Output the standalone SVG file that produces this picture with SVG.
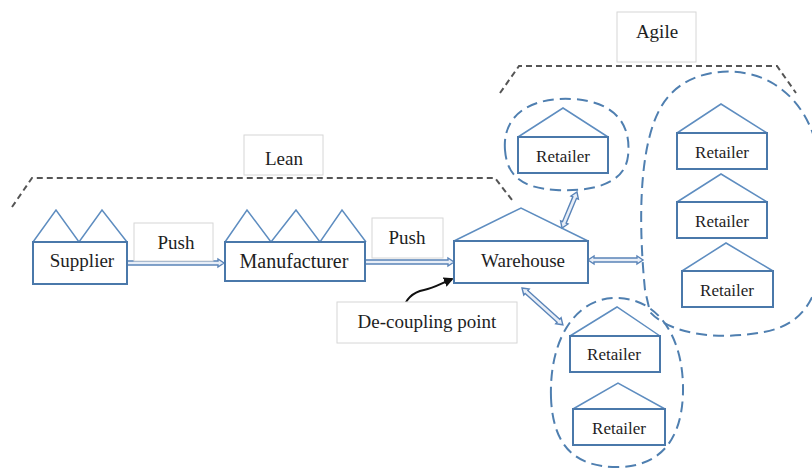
<svg xmlns="http://www.w3.org/2000/svg" width="812" height="468" viewBox="0 0 812 468">
<defs>
<style>
text{font-family:"Liberation Serif","Times New Roman",serif;fill:#1e1e1e;text-anchor:middle}
.t19{font-size:19px}
.t20{font-size:20px}
.t17{font-size:17px}
.box{fill:#fff;stroke:#4a78aa;stroke-width:2}
.roof{fill:none;stroke:#5e8dc0;stroke-width:1.5}
.lbl{fill:#fff;stroke:#d6d6d6;stroke-width:1}
.blob{fill:none;stroke:#4f7fb0;stroke-width:2;stroke-dasharray:11 6}
.zone{fill:none;stroke:#555;stroke-width:2;stroke-dasharray:6 4}
.arr{fill:#e8eef7;stroke:#5a84b8;stroke-width:1.4;stroke-linejoin:miter}
</style>
<marker id="bk" markerWidth="10" markerHeight="10" refX="8" refY="5" orient="auto" markerUnits="userSpaceOnUse" viewBox="0 0 10 10">
<path d="M0,0 L10,5 L0,10 Z" fill="#111"/>
</marker>
</defs>

<g id="lean-zone">
<path class="zone" d="M12,207 L32,178 L495,178 L512,200"/>
<rect class="lbl" x="244" y="135" width="79" height="40"/>
<text class="t19" x="284" y="165">Lean</text>
</g>

<g id="agile-zone">
<path class="zone" d="M500,93 L519,66 L777,66 L796,93"/>
<rect class="lbl" x="617" y="12" width="79" height="50"/>
<text class="t19" x="657" y="38">Agile</text>
</g>

<g id="clusters">
<path class="blob" d="M505,150 C502,112 535,97 572,99 C612,101 632,122 628,156 C625,184 592,192 556,190 C522,188 507,176 505,150 Z"/>
<path class="blob" d="M645,290 C638,220 638,132 668,97 C692,68 742,64 774,84 C806,104 822,140 824,200 C826,280 816,322 764,332 C722,340 672,336 650,312 Z"/>
<path class="blob" d="M551,398 C549,340 575,298 616,298 C660,298 684,340 683,392 C682,440 660,467 617,467 C576,467 553,447 551,398 Z"/>
</g>

<g id="connectors">
<path class="arr" d="M127,261 L218,261 L218,259 L224,263 L218,267 L218,265 L127,265 Z"/>
<path class="arr" d="M365,260 L448,260 L448,258 L454,262 L448,266 L448,264 L365,264 Z"/>
<path class="arr" transform="translate(562,228) rotate(-67.4)" d="M0,0 L6,-4 L6,-2 L33,-2 L33,-4 L39,0 L33,4 L33,2 L6,2 L6,4 Z"/>
<path class="arr" transform="translate(588,260)" d="M0,0 L6,-4 L6,-2 L49,-2 L49,-4 L55,0 L49,4 L49,2 L6,2 L6,4 Z"/>
<path class="arr" transform="translate(522,288) rotate(42)" d="M0,0 L6,-4 L6,-2 L49,-2 L49,-4 L55,0 L49,4 L49,2 L6,2 L6,4 Z"/>
<path d="M402,312 C405,300 413,292 424,290 C434,288 440,284 452,279" fill="none" stroke="#111" stroke-width="2" marker-end="url(#bk)"/>
</g>

<g id="push1">
<rect class="lbl" x="134" y="223" width="79" height="38"/>
<text class="t19" x="176" y="249">Push</text>
</g>
<g id="push2">
<rect class="lbl" x="372" y="218" width="71" height="40"/>
<text class="t19" x="407" y="244">Push</text>
</g>

<g id="supplier">
<path class="roof" d="M33,242 L56,210 L79,242 L102,210 L127,242"/>
<rect class="box" x="33" y="242" width="94" height="42"/>
<text class="t19" x="82" y="267">Supplier</text>
</g>

<g id="manufacturer">
<path class="roof" d="M225,242 L247,210 L271,242 L296,210 L320,242 L342,210 L366,242"/>
<rect class="box" x="225" y="242" width="140" height="39"/>
<text class="t20" x="294" y="268">Manufacturer</text>
</g>

<g id="warehouse">
<path class="roof" d="M454,241 L521,208 L588,241"/>
<rect class="box" x="454" y="241" width="134" height="42"/>
<text class="t19" x="523" y="267">Warehouse</text>
</g>

<g id="decoupling">
<rect class="lbl" x="337" y="302" width="180" height="41"/>
<text class="t19" x="427" y="328">De-coupling point</text>
</g>

<g id="retailer-top">
<path class="roof" d="M518,137 L563,108 L608,137"/>
<rect class="box" x="518" y="137" width="90" height="36"/>
<text class="t17" x="563" y="162">Retailer</text>
</g>

<g id="retailer-r1">
<path class="roof" d="M677,133 L721,104 L767,133"/>
<rect class="box" x="677" y="133" width="90" height="36"/>
<text class="t17" x="722" y="158">Retailer</text>
</g>
<g id="retailer-r2">
<path class="roof" d="M677,202 L721,174 L767,202"/>
<rect class="box" x="677" y="202" width="90" height="36"/>
<text class="t17" x="722" y="227">Retailer</text>
</g>
<g id="retailer-r3">
<path class="roof" d="M682,271 L726,243 L773,271"/>
<rect class="box" x="682" y="271" width="91" height="36"/>
<text class="t17" x="727" y="296">Retailer</text>
</g>

<g id="retailer-b1">
<path class="roof" d="M570,336 L617,307 L660,336"/>
<rect class="box" x="570" y="336" width="90" height="36"/>
<text class="t17" x="614" y="360">Retailer</text>
</g>
<g id="retailer-b2">
<path class="roof" d="M573,409 L618,383 L665,409"/>
<rect class="box" x="573" y="409" width="92" height="36"/>
<text class="t17" x="619" y="434">Retailer</text>
</g>
</svg>
